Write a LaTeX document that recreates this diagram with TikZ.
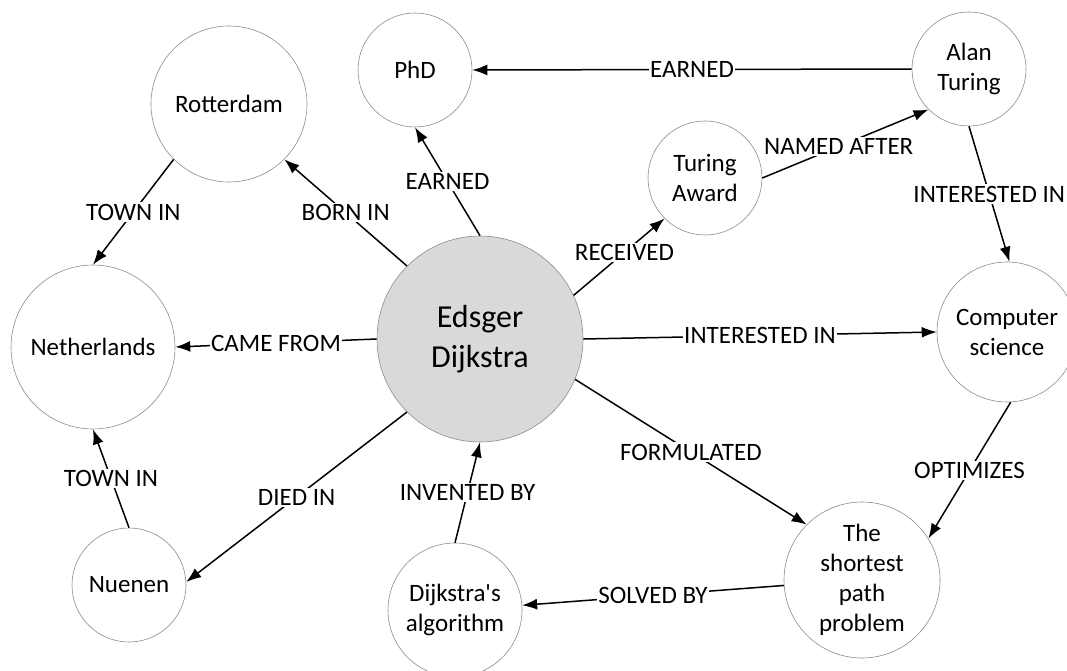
\documentclass[tikz,border=0pt]{standalone}
\usepackage{fontspec}
\setmainfont{Carlito}[Ligatures=TeXOff]
\usetikzlibrary{arrows.meta}
\definecolor{egray}{HTML}{D9D9D9}
\definecolor{ring}{HTML}{8C8C8C}
\begin{document}
\begin{tikzpicture}[x=1pt,y=-1pt,
  ent/.style={circle, draw=ring, line width=0.6pt, fill=white, inner sep=0pt, align=center, font=\fontsize{25}{30}\selectfont},
  rel/.style={line width=1.5pt, -{Latex[length=15pt,width=11pt]}},
  lab/.style={fill=white, inner sep=1.5pt, font=\fontsize{25}{30}\selectfont},
]
\useasboundingbox (0,0) rectangle (1067,671);
\node[ent, minimum size=206pt, fill=egray, font=\fontsize{32}{40}\selectfont] (E) at (480,339) {Edsger\\Dijkstra};
\node[ent, minimum size=156pt] (R) at (229,104) {Rotterdam};
\node[ent, minimum size=114pt] (P) at (415,70) {PhD};
\node[ent, minimum size=164pt] (N) at (93,347) {Netherlands};
\node[ent, minimum size=114pt] (U) at (129,585) {Nuenen};
\node[ent, minimum size=134pt] (DA) at (455,610) {Dijkstra's\\algorithm};
\node[ent, minimum size=114pt] (AT) at (969,69) {Alan\\Turing};
\node[ent, minimum size=114pt] (TA) at (705,178) {Turing\\Award};
\node[ent, minimum size=140pt] (CS) at (1007,332) {Computer\\science};
\node[ent, minimum size=156pt] (SP) at (862,580) {The\\shortest\\path\\problem};

\draw[rel] (E.north west) -- node[lab] {BORN IN} (R.south east);
\draw[rel] (R.south west) -- node[lab] {TOWN IN} (N.north);
\draw[rel] (E.north) -- node[lab] {EARNED} (P.south);
\draw[rel] (AT.west) -- node[lab] {EARNED} (P.east);
\draw[rel] (E.west) -- node[lab] {CAME FROM} (N.east);
\draw[rel] (E.south west) -- node[lab] {DIED IN} (U.3);
\draw[rel] (U.north) -- node[lab] {TOWN IN} (N.south);
\draw[rel] (DA.north) -- node[lab] {INVENTED BY} (E.south);
\draw[rel] (SP.184) -- node[lab] {SOLVED BY} (DA.4);
\draw[rel] (E.337) -- node[lab] {FORMULATED} (SP.north west);
\draw[rel] (E.east) -- node[lab] {INTERESTED IN} (CS.west);
\draw[rel] (CS.273) -- node[lab] {OPTIMIZES} (SP.32);
\draw[rel] (AT.south) -- node[lab] {INTERESTED IN} (CS.88);
\draw[rel] (E.25) -- node[lab, pos=0.56] {RECEIVED} (TA.south west);
\draw[rel] (TA.east) -- node[lab, pos=0.46] {NAMED AFTER} (AT.south west);
\end{tikzpicture}
\end{document}
